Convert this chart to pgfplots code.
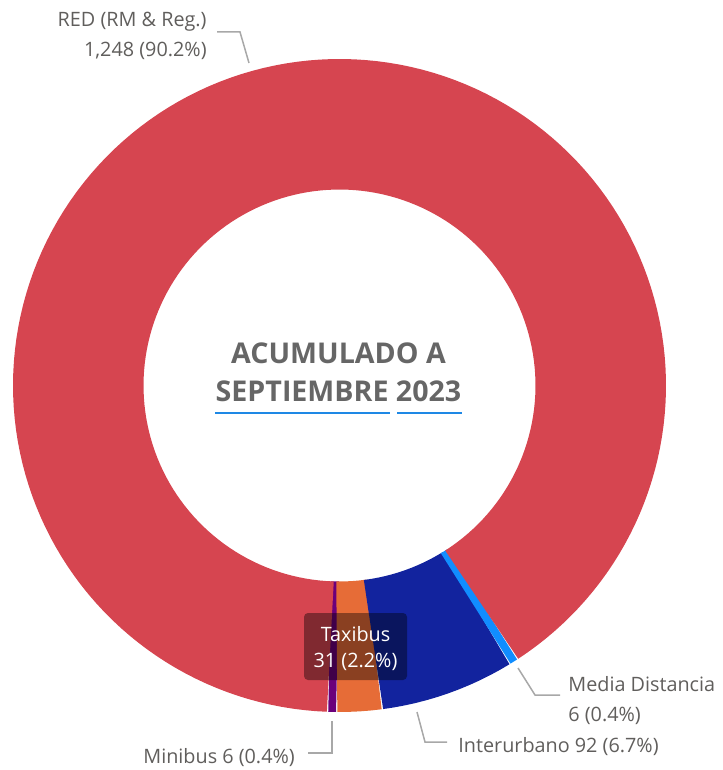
\documentclass[border=0pt]{standalone}
\usepackage{pgfplots}
\usepackage{pgfplotstable}
\pgfplotsset{compat=1.18}
\usepackage{fontspec}
\setmainfont{Open Sans}

\definecolor{slice0}{HTML}{6B007B}% Minibus
\definecolor{slice1}{HTML}{E66C37}% Taxibus
\definecolor{slice2}{HTML}{12239E}% Interurbano
\definecolor{slice3}{HTML}{118DFF}% Media Distancia
\definecolor{slice4}{HTML}{D64550}% RED
\definecolor{labelgray}{HTML}{605E5C}
\definecolor{leadergray}{HTML}{A8A8A8}
\definecolor{titlegray}{HTML}{666666}
\definecolor{spellblue}{HTML}{1E88E5}

\pgfplotstableread[col sep=comma]{
name,value
Minibus,6
Taxibus,31
Interurbano,92
Media Distancia,6
RED,1248
}\slices

% donut geometry, in pixels of the 722x770 picture (y runs down)
\def\cx{339.5}
\def\cy{385.5}
\def\rmid{261.25}
\def\startang{268.0}

% start and end angle of every slice, from the values
% (each slice starts 0.15 deg early so no white seam shows between slices)
\pgfmathsetmacro\tot{0}
\pgfplotsforeachungrouped \i in {0,...,4}{%
  \pgfplotstablegetelem{\i}{value}\of\slices
  \pgfmathsetmacro\tot{\tot+\pgfplotsretval}}
\pgfmathsetmacro\acc{\startang}
\pgfplotsforeachungrouped \i in {0,...,4}{%
  \pgfplotstablegetelem{\i}{value}\of\slices
  \pgfmathsetmacro\a{\acc-0.15}%
  \expandafter\xdef\csname sa\i\endcsname{\a}%
  \pgfmathsetmacro\span{(\pgfplotsretval/\tot)*360}%
  \pgfmathtruncatemacro\n{max(2,round(\span/2)+1)}%
  \expandafter\xdef\csname sn\i\endcsname{\n}%
  \pgfmathsetmacro\acc{\acc+\span}%
  \expandafter\xdef\csname sb\i\endcsname{\acc}}

\newcommand\lbl{\fontsize{9.9}{12}\selectfont\color{labelgray}}

\begin{document}
\begin{tikzpicture}
\begin{axis}[at={(0,0)}, anchor=south west, scale only axis,
  width=361pt, height=385pt,
  xmin=0, xmax=722, ymin=0, ymax=770, y dir=reverse,
  hide axis, clip=false]
\pgfplotsinvokeforeach{0,...,4}{
  \addplot[draw=slice#1, line width=65.25pt, line join=round, no markers,
    samples=\csname sn#1\endcsname,
    domain=\csname sa#1\endcsname:\csname sb#1\endcsname, variable=\t]
    ({\cx+\rmid*cos(\t)},{\cy-\rmid*sin(\t)});
}

% centre title
\node[anchor=base, inner sep=0, text=titlegray, font=\fontsize{14.3}{16}\selectfont\bfseries]
  at (axis cs:338.5,363) {ACUMULADO A};
\node[anchor=base, inner sep=0, text=titlegray, font=\fontsize{14.3}{16}\selectfont\bfseries]
  at (axis cs:338.5,401) {SEPTIEMBRE 2023};
\draw[spellblue, line width=1pt] (axis cs:215,413) -- (axis cs:390,413);
\draw[spellblue, line width=1pt] (axis cs:397,413) -- (axis cs:462,413);

% leader lines
\draw[leadergray, line width=0.75pt] (axis cs:217,32) -- (axis cs:240,32) -- (axis cs:249,63);
\draw[leadergray, line width=0.75pt] (axis cs:518,668) -- (axis cs:535,695) -- (axis cs:560,695);
\draw[leadergray, line width=0.75pt] (axis cs:417,712) -- (axis cs:425,742) -- (axis cs:447,742);
\draw[leadergray, line width=0.75pt] (axis cs:332,721) -- (axis cs:332,753) -- (axis cs:308,753);

% outside labels
\node[anchor=base east, inner sep=0, font=\lbl] at (axis cs:207,27) {RED (RM \& Reg.)};
\node[anchor=base east, inner sep=0, font=\lbl] at (axis cs:207,57) {1,248 (90.2\%)};
\node[anchor=base west, inner sep=0, font=\lbl] at (axis cs:568,691) {Media Distancia};
\node[anchor=base west, inner sep=0, font=\lbl] at (axis cs:568,721) {6 (0.4\%)};
\node[anchor=base west, inner sep=0, font=\lbl] at (axis cs:458,752) {Interurbano 92 (6.7\%)};
\node[anchor=base west, inner sep=0, font=\lbl] at (axis cs:143,763) {Minibus 6 (0.4\%)};

% Taxibus data label in its dark box
\fill[black, opacity=0.4, rounded corners=2pt] (axis cs:304,613) rectangle (axis cs:407,680);
\node[anchor=base, inner sep=0, text=white, font=\fontsize{9.9}{12}\selectfont] at (axis cs:355.5,641) {Taxibus};
\node[anchor=base, inner sep=0, text=white, font=\fontsize{9.9}{12}\selectfont] at (axis cs:355.5,667) {31 (2.2\%)};
\end{axis}
\pgfresetboundingbox
\path (0,0) rectangle (361pt,385pt);
\end{tikzpicture}
\end{document}
